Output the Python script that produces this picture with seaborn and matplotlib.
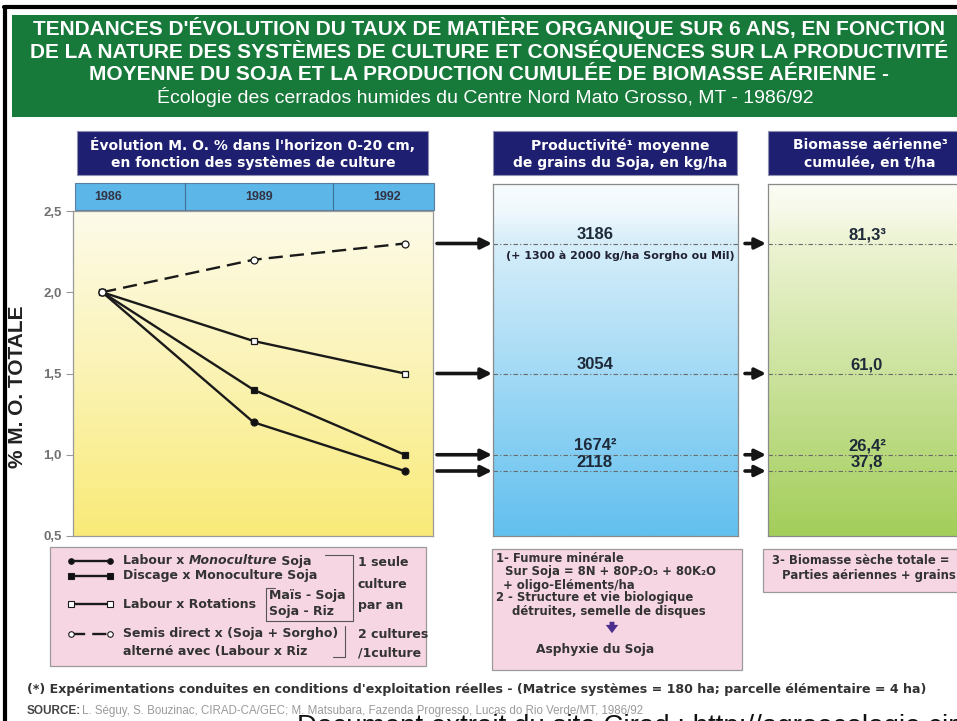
import matplotlib
matplotlib.use("Agg")
import matplotlib.pyplot as plt
from matplotlib.patches import Rectangle
from matplotlib.colors import LinearSegmentedColormap
import seaborn as sns
import numpy as np

# ---- data -------------------------------------------------------------
years = [1986, 1989, 1992]
mo_labour_mono = [2.0, 1.2, 0.9]
mo_discage_mono = [2.0, 1.4, 1.0]
mo_labour_rot = [2.0, 1.7, 1.5]
mo_semis_direct = [2.0, 2.2, 2.3]

systems = ["Labour x Monoculture Soja", "Discage x Monoculture Soja",
           "Labour x Rotations", "Semis direct x (Soja + Sorgho)"]
soja_yield = ["2118", "1674²", "3054", "3186"]        # kg/ha
biomass = ["37,8", "26,4²", "61,0", "81,3³"]          # t/ha
year_labels = ["1986", "1989", "1992"]
y_ticks = [0.5, 1.0, 1.5, 2.0, 2.5]
y_tick_labels = ["0,5", "1,0", "1,5", "2,0", "2,5"]

title_lines = [
    "TENDANCES D'ÉVOLUTION DU TAUX DE MATIÈRE ORGANIQUE SUR 6 ANS, EN FONCTION",
    "DE LA NATURE DES SYSTÈMES DE CULTURE ET CONSÉQUENCES SUR LA PRODUCTIVITÉ",
    "MOYENNE DU SOJA ET LA PRODUCTION CUMULÉE DE BIOMASSE AÉRIENNE -",
]
subtitle = "Écologie des cerrados humides du Centre Nord Mato Grosso, MT - 1986/92"

series = [mo_labour_mono, mo_discage_mono, mo_labour_rot, mo_semis_direct]
markers = ["o", "s", "s", "o"]
faces = ["#111111", "#111111", "white", "white"]
styles = ["-", "-", "-", (0, (6, 3))]

# ---- figure -----------------------------------------------------------
sns.set_style("white")
plt.rcParams["font.family"] = ["Liberation Sans", "DejaVu Sans"]
W, H = 957, 721
fig = plt.figure(figsize=(W / 100, H / 100), dpi=100)
fig.patch.set_facecolor("white")
wide = ["DejaVu Sans"]
dark = "#333333"


def px_rect(x0, y0, x1, y1):
    return [x0 / W, 1 - y1 / H, (x1 - x0) / W, (y1 - y0) / H]


bg = fig.add_axes([0, 0, 1, 1], zorder=0)
bg.set_xlim(0, W)
bg.set_ylim(H, 0)
bg.axis("off")

# outer frame
bg.plot([4, W + 5], [7, 7], color="black", lw=3)
bg.plot([5, 5], [7, H + 5], color="black", lw=3)

# title box
bg.add_patch(Rectangle((12, 15), W, 102, facecolor="#17793a", edgecolor="none"))
for i, line in enumerate(title_lines):
    bg.text(489, 28 + i * 23, line, ha="center", va="center", color="white",
            fontsize=15, fontweight="bold")
bg.text(485, 97, subtitle, ha="center", va="center", color="white", fontsize=14)

# navy headers
navy = "#1f1f72"
headers = [((77, 131, 428, 175), "Évolution M. O. % dans l'horizon 0-20 cm,\nen fonction des systèmes de culture", 253),
           ((493, 131, 737, 175), "Productivité¹ moyenne\nde grains du Soja, en kg/ha", 620),
           ((768, 131, W + 10, 175), "Biomasse aérienne³\ncumulée, en t/ha", 870)]
for (x0, y0, x1, y1), txt, xc in headers:
    bg.add_patch(Rectangle((x0, y0), x1 - x0, y1 - y0, facecolor=navy, edgecolor="#9090b0", lw=0.8))
    bg.text(xc, (y0 + y1) / 2 + 1, txt, ha="center", va="center", color="white",
            fontsize=10, fontweight="bold", linespacing=1.3, family=wide)

# year band
bg.add_patch(Rectangle((75, 183), 359, 27, facecolor="#5cb6e8", edgecolor="#5a7fa0", lw=0.8))
for xd in (185, 333):
    bg.plot([xd, xd], [183, 210], color="#3f6f96", lw=0.8)
for xl, lab in zip((108, 259, 387), year_labels):
    bg.text(xl, 197, lab, ha="center", va="center", color="#333344", fontsize=9, fontweight="bold")

# ---- main line chart --------------------------------------------------
ax = fig.add_axes(px_rect(73, 211, 433, 536), zorder=2)
xlim = (1985.42, 1992.56)
grad = np.linspace(0, 1, 256).reshape(-1, 1)
cm_y = LinearSegmentedColormap.from_list("y", ["#fdfbea", "#fbf3b4", "#f9ea78"])
ax.imshow(grad, cmap=cm_y, aspect="auto", extent=(xlim[0], xlim[1], 0.5, 2.5),
          origin="upper", zorder=0)
for vals, mk, fc, ls in zip(series, markers, faces, styles):
    sns.lineplot(x=years, y=vals, ax=ax, color="#1a1a1a", lw=1.7, linestyle=ls,
                 marker=mk, markersize=5, markerfacecolor=fc, markeredgecolor="#1a1a1a",
                 markeredgewidth=0.9, zorder=3)
ax.set_xlim(*xlim)
ax.set_ylim(0.5, 2.5)
ax.set_xticks([])
ax.set_yticks(y_ticks)
ax.set_yticklabels(y_tick_labels, color="#707070", fontsize=9.5, fontweight="bold")
ax.tick_params(axis="y", length=5, width=0.8, color="#999999", pad=3, left=True)
for s in ax.spines.values():
    s.set_color("#9a9a9a")
    s.set_linewidth(0.9)
ax.set_ylabel("% M. O. TOTALE", fontsize=15, fontweight="bold", color="#222222")
ax.yaxis.set_label_coords(-0.127, 0.46)

last_vals = [v[-1] for v in series]
arrow_kw = dict(arrowstyle="-|>", lw=2.6, color="#151515", mutation_scale=16, shrinkA=0, shrinkB=0)
for v in last_vals:
    ax.annotate("", xy=(492, v), xytext=(437, v), xycoords=("figure pixels", "data"),
                textcoords=("figure pixels", "data"), arrowprops=arrow_kw, annotation_clip=False)

# ---- productivity and biomass panels ----------------------------------
ytop = 0.5 + 352 / 162.5
cm_b = LinearSegmentedColormap.from_list("b", [(0, "#f6fbfe"), (0.07, "#f2f9fd"), (0.15, "#d9effa"),
                                               (1, "#62c0ef")])
cm_g = LinearSegmentedColormap.from_list("g", [(0, "#fbfcf4"), (0.07, "#f7f9ea"), (0.15, "#eef4d6"),
                                               (1, "#a3ce5a")])
panels = [(px_rect(493, 184, 738, 536), cm_b, soja_yield, 0.416),
          (px_rect(768, 184, W + 5, 536), cm_g, biomass, 0.51)]
pax = []
for rect, cmap, labels, xt in panels:
    a = fig.add_axes(rect, zorder=2)
    a.imshow(grad, cmap=cmap, aspect="auto", extent=(0, 1, 0.5, ytop), origin="upper", zorder=0)
    a.set_xlim(0, 1)
    a.set_ylim(0.5, ytop)
    a.set_xticks([])
    a.set_yticks([])
    for s in a.spines.values():
        s.set_color("#8a8a8a")
        s.set_linewidth(0.9)
    for v, lab in zip(last_vals, labels):
        a.axhline(v, color="#6a6a6a", lw=0.8, linestyle=(0, (4, 2, 1, 2)), zorder=1)
        a.annotate(lab, xy=(xt, v), xycoords=("axes fraction", "data"), xytext=(0, 1),
                   textcoords="offset points", ha="center", va="bottom",
                   fontsize=12, fontweight="bold", color="#1e2a3a")
    pax.append(a)

pax[0].annotate("(+ 1300 à 2000 kg/ha Sorgho ou Mil)", xy=(0.518, mo_semis_direct[-1]),
                xycoords=("axes fraction", "data"), xytext=(0, -5), textcoords="offset points",
                ha="center", va="top", fontsize=8, fontweight="bold", color="#223", family=wide)
for v in last_vals:
    pax[0].annotate("", xy=(766, v), xytext=(745, v), xycoords=("figure pixels", "data"),
                    textcoords=("figure pixels", "data"), arrowprops=arrow_kw, annotation_clip=False)

# ---- legend box -------------------------------------------------------
pink = "#f7d6e3"
txt_kw = dict(va="center", ha="left", fontsize=9, fontweight="bold", color=dark, family=wide)
bg.add_patch(Rectangle((50, 547), 376, 119, facecolor=pink, edgecolor="#9a9a9a", lw=0.9))
leg_rows = [561, 576, 604, 634]
for y, mk, fc, ls in zip(leg_rows, markers, faces, styles):
    bg.plot([71, 110], [y, y], color="#1a1a1a", lw=1.7, linestyle=ls, marker=mk,
            markersize=4, markerfacecolor=fc, markeredgecolor="#1a1a1a", markeredgewidth=0.8)
# first row has the word "Monoculture" in italics
t = bg.text(123, leg_rows[0], "Labour x ", **txt_kw)
t = bg.annotate("Monoculture", xy=(1, 0.5), xycoords=t, style="italic", **txt_kw)
bg.annotate(" Soja", xy=(1, 0.5), xycoords=t, **txt_kw)
for y, name in zip(leg_rows[1:], systems[1:]):
    bg.text(123, y, name, **txt_kw)
bg.text(123, 652, "alterné avec (Labour x Riz", **txt_kw)
bg.text(269, 595, "Maïs - Soja", **txt_kw)
bg.text(269, 612, "Soja - Riz", **txt_kw)
bg.plot([275, 266, 266, 353, 353, 325], [588, 588, 621, 621, 555, 555], color="#555555", lw=0.8)
bg.plot([333, 345, 345], [657, 657, 626], color="#555555", lw=0.8)
for y, tx in zip((562, 584, 606, 634, 653), ("1 seule", "culture", "par an", "2 cultures", "/1culture")):
    bg.text(358, y, tx, **txt_kw)

# middle footnote box
bg.add_patch(Rectangle((492, 549), 250, 121, facecolor=pink, edgecolor="#9a9a9a", lw=0.9))
fn = [(496, 558, "1- Fumure minérale"),
      (505, 572, "Sur Soja = 8N + 80P₂O₅ + 80K₂O"),
      (503, 585, "+ oligo-Eléments/ha"),
      (496, 598, "2 - Structure et vie biologique"),
      (512, 612, "détruites, semelle de disques")]
for x, y, tx in fn:
    bg.text(x, y, tx, va="center", fontsize=8.4, fontweight="bold", color=dark, family=wide)
bg.annotate("", xy=(612, 636), xytext=(612, 619),
            arrowprops=dict(arrowstyle="simple,head_width=0.9,head_length=0.6,tail_width=0.35",
                            color="#4a2d8c", lw=0))
bg.text(595, 650, "Asphyxie du Soja", ha="center", va="center", fontsize=8.8,
        fontweight="bold", color=dark, family=wide)

# right footnote box
bg.add_patch(Rectangle((763, 549), W, 43, facecolor=pink, edgecolor="#9a9a9a", lw=0.9))
bg.text(772, 560, "3- Biomasse sèche totale =", va="center", fontsize=8.4,
        fontweight="bold", color=dark, family=wide)
bg.text(782, 576, "Parties aériennes + grains", va="center", fontsize=8.4,
        fontweight="bold", color=dark, family=wide)

# ---- footnotes --------------------------------------------------------
bg.text(27, 689, "(*) Expérimentations conduites en conditions d'exploitation réelles - "
        "(Matrice systèmes = 180 ha; parcelle élémentaire = 4 ha)",
        va="center", fontsize=9.1, fontweight="bold", color=dark, family=wide)
bg.text(27, 711, "SOURCE:", va="center", fontsize=8.5, fontweight="bold", color="#444444")
bg.text(82, 711, "L. Séguy, S. Bouzinac, CIRAD-CA/GEC; M. Matsubara, Fazenda Progresso, "
        "Lucas do Rio Verde/MT, 1986/92", va="center", fontsize=8.3, color="#9a9a9a")
bg.text(297, 714, "Document extrait du site Cirad : http://agroecologie.cirad.fr",
        va="top", fontsize=20, color="#111111")

fig.savefig("out.png", dpi=100)
